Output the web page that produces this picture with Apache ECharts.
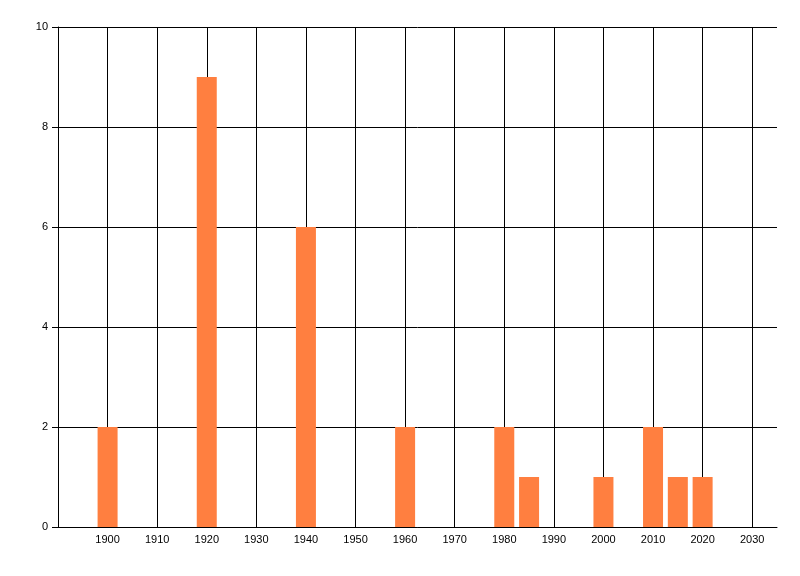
<!DOCTYPE html>
<html>
<head>
    <meta charset="utf-8">
    <script src="https://cdn.jsdelivr.net/npm/echarts@6/dist/echarts.min.js"></script>
    <style>
        body{
            margin:0;
            padding:0;
        }
    </style>
</head>
<body>
<div id="main" style="width:800px;height:576px;"></div>
<script type="text/javascript">
var myChart = echarts.init(document.getElementById('main'));

// years and counts
let years = [1900, 1920, 1940, 1960, 1980, 1985, 2000, 2010, 2015, 2020];
let counts = [2, 9, 6, 2, 2, 1, 1, 2, 1, 1];

let data = [];
for (let i = 0; i < years.length; i++) {
  data.push([years[i], counts[i]]);
}

option = {
  animation: false,
  textStyle: {
    fontFamily: 'Liberation Sans, Arial, sans-serif'
  },
  grid: {
    left: 58,
    top: 27,
    right: 23,
    bottom: 49
  },
  xAxis: {
    type: 'value',
    min: 1890,
    max: 2035,
    interval: 10,
    axisLine: {
      show: true,
      lineStyle: { color: '#000', width: 1 }
    },
    axisTick: { show: false },
    axisLabel: {
      color: '#000',
      fontSize: 11,
      margin: 7,
      showMaxLabel: false,
      formatter: function (v) {
        return (v === 1890 || v % 10 !== 0) ? '' : v;
      }
    },
    splitLine: {
      show: true,
      showMinLine: false,
      showMaxLine: false,
      lineStyle: { color: '#000', width: 1 }
    }
  },
  yAxis: {
    type: 'value',
    min: 0,
    max: 10,
    interval: 2,
    axisLine: {
      show: true,
      lineStyle: { color: '#000', width: 1 }
    },
    axisTick: {
      show: true,
      length: 6,
      lineStyle: { color: '#000' }
    },
    axisLabel: {
      color: '#000',
      fontSize: 11,
      margin: 10
    },
    splitLine: {
      show: true,
      lineStyle: { color: '#000', width: 1 }
    }
  },
  series: [
    {
      type: 'bar',
      barWidth: 20,
      itemStyle: {
        color: '#ff7f40'
      },
      data: data
    }
  ]
};
myChart.setOption(option);
</script>
</body>
</html>
